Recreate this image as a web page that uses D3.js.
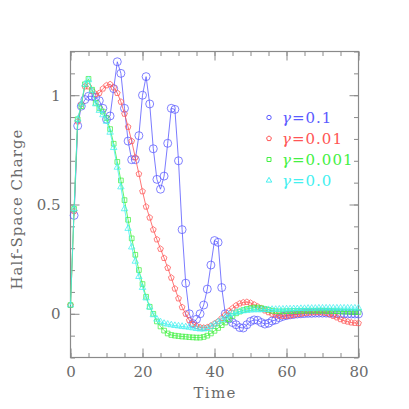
<!DOCTYPE html>
<html>
<head>
<meta charset="utf-8">
<script src="https://cdn.jsdelivr.net/npm/d3@7"></script>
<style>
  html, body { margin: 0; padding: 0; background: #fff; }
  svg { display: block; }
</style>
</head>
<body>
<script>
// ---------------- data ----------------
const time = d3.range(0, 81); // sampling grid, t = 0..80

const gamma01 = [
  null, 0.45, 0.86, 0.95, 0.98, 0.995, 0.995, 0.99, 0.975, 0.94,
  0.89, 0.905, 1.03, 1.153, 1.10, 0.94, 0.79, 0.705, 0.705, 0.815,
  1.0, 1.085, 0.96, 0.755, 0.615, 0.57, 0.63, 0.78, 0.94, 0.935,
  0.70, 0.385, 0.14, 0.0, -0.045, -0.025, 0.0, 0.04, 0.113, 0.223,
  0.335, 0.327, 0.12, 0.0, -0.024, -0.04, -0.05, -0.063, -0.065, -0.05,
  -0.035, -0.028, -0.03, -0.04, -0.047, -0.043, -0.033, -0.028, -0.018, -0.012,
  -0.008, -0.005, -0.003, -0.001, 0.0, 0.001, 0.002, 0.002, 0.003, 0.003,
  0.003, 0.003, 0.002, 0.002, 0.001, 0.0, 0.0, -0.001, -0.001, -0.001,
  -0.001
];
const gamma001 = [
  0.04, 0.47, 0.88, 0.96, 1.04, 1.04, 1.02, 1.005, 1.01, 1.03,
  1.045, 1.05, 1.035, 1.01, 0.97, 0.915, 0.855, 0.79, 0.715, 0.64,
  0.56, 0.49, 0.44, 0.385, 0.34, 0.297, 0.255, 0.21, 0.165, 0.115,
  0.07, 0.03, 0.0, -0.03, -0.047, -0.056, -0.062, -0.064, -0.062, -0.055,
  -0.045, -0.035, -0.02, -0.005, 0.012, 0.025, 0.038, 0.047, 0.052, 0.054,
  0.05, 0.042, 0.033, 0.025, 0.015, 0.007, 0.0, -0.005, -0.009, -0.01,
  -0.01, -0.008, -0.005, -0.002, 0.0, 0.003, 0.005, 0.006, 0.007, 0.007,
  0.006, 0.004, -0.002, -0.01, -0.017, -0.025, -0.032, -0.036, -0.04, -0.042,
  -0.043
];
const gamma0001 = [
  0.04, 0.48, 0.89, 0.95, 1.05, 1.075, 1.025, 0.965, 0.94, 0.925,
  0.895, 0.845, 0.778, 0.695, 0.61, 0.52, 0.43, 0.345, 0.27, 0.2,
  0.136, 0.078, 0.032, 0.0, -0.035, -0.058, -0.077, -0.09, -0.097, -0.1,
  -0.102, -0.104, -0.105, -0.107, -0.108, -0.109, -0.109, -0.106, -0.1, -0.09,
  -0.078, -0.065, -0.052, -0.04, -0.025, -0.01, 0.002, 0.01, 0.017, 0.022,
  0.025, 0.028, 0.028, 0.026, 0.022, 0.018, 0.014, 0.012, 0.011, 0.011,
  0.012, 0.012, 0.013, 0.013, 0.014, 0.014, 0.014, 0.014, 0.014, 0.014,
  0.014, 0.013, 0.013, 0.012, 0.012, 0.011, 0.01, 0.01, 0.009, 0.008,
  0.008
];
const gamma0 = [
  0.04, 0.48, 0.89, 0.96, 1.05, 1.07, 1.02, 0.96, 0.93, 0.91,
  0.88, 0.83, 0.76, 0.67, 0.58, 0.48, 0.39, 0.305, 0.24, 0.17,
  0.12, 0.072, 0.03, -0.005, -0.025, -0.037, -0.044, -0.048, -0.051, -0.054,
  -0.056, -0.058, -0.06, -0.062, -0.065, -0.068, -0.07, -0.07, -0.068, -0.058,
  -0.048, -0.037, -0.027, -0.015, -0.005, 0.002, 0.006, 0.01, 0.013, 0.015,
  0.017, 0.018, 0.018, 0.018, 0.019, 0.019, 0.02, 0.02, 0.021, 0.021,
  0.022, 0.022, 0.023, 0.023, 0.024, 0.024, 0.025, 0.025, 0.025, 0.026,
  0.026, 0.026, 0.026, 0.026, 0.026, 0.026, 0.026, 0.026, 0.026, 0.026,
  0.026
];

const seriesLabels = ["0.1", "0.01", "0.001", "0.0"];
const seriesValues = [gamma01, gamma001, gamma0001, gamma0];
const seriesColors = ["#5b5bff", "#ff5555", "#44f044", "#44f0f0"];
const seriesMarkers = ["circleBig", "pentagon", "square", "triangle"];

const xMajorTicks = [0, 20, 40, 60, 80];
const xMinorTicks = d3.range(0, 81, 5);
const yMajorTicks = [0, 0.5, 1];
const yMajorLabels = ["0", "0.5", "1"];
const yMinorTicks = [-0.2, -0.1, 0, 0.1, 0.2, 0.3, 0.4, 0.5, 0.6, 0.7, 0.8, 0.9, 1.0, 1.1, 1.2];

const xTitle = "Time";
const yTitle = "Half-Space Charge";

// ---------------- layout ----------------
const W = 409, H = 409;
const mLeft = 70.5, mRight = 358.5, mTop = 51.5, mBottom = 357.5;
const axisColor = "#8a8a8a";
const textColor = "#6a6a6a";
const fontFam = "'DejaVu Serif', 'Liberation Serif', serif";

const svg = d3.select("body").append("svg").attr("width", W).attr("height", H);

const x = d3.scaleLinear().domain([0, 80]).range([mLeft, mRight]);
const y = d3.scaleLinear().domain([-0.2, 1.2]).range([mBottom, mTop]);

// custom symbol types
const pentagon = {
  draw(ctx, size) {
    const r = Math.sqrt(size / 2.4);
    for (let i = 0; i < 5; i++) {
      const a = -Math.PI / 2 + i * 2 * Math.PI / 5;
      const px = r * Math.cos(a), py = r * Math.sin(a);
      if (i === 0) ctx.moveTo(px, py); else ctx.lineTo(px, py);
    }
    ctx.closePath();
  }
};
function symbolPath(kind, scale) {
  const s = scale || 1;
  if (kind === "circleBig") return d3.symbol(d3.symbolCircle, 50 * s * s)();
  if (kind === "pentagon") return d3.symbol(pentagon, 22 * s * s)();
  if (kind === "square") return d3.symbol(d3.symbolSquare, 22 * s * s)();
  return d3.symbol(d3.symbolTriangle, 18 * s * s)();
}

// ---------------- axes ----------------
function drawAxis(axisGen, transform) {
  const g = svg.append("g").attr("transform", transform).call(axisGen);
  g.select(".domain").remove();
  g.selectAll(".tick line").attr("stroke", axisColor).attr("stroke-width", 1);
  g.selectAll("text").attr("fill", textColor).attr("font-family", fontFam).attr("font-size", 15);
  return g;
}
// bottom
drawAxis(d3.axisBottom(x).tickValues(xMinorTicks).tickSize(-4.5).tickFormat(""), `translate(0,${mBottom})`);
drawAxis(d3.axisBottom(x).tickValues(xMajorTicks).tickSize(-9).tickPadding(9).tickFormat(d3.format("d")), `translate(0,${mBottom})`);
// top
drawAxis(d3.axisTop(x).tickValues(xMinorTicks).tickSize(-4.5).tickFormat(""), `translate(0,${mTop})`);
drawAxis(d3.axisTop(x).tickValues(xMajorTicks).tickSize(-9).tickFormat(""), `translate(0,${mTop})`);
// left
drawAxis(d3.axisLeft(y).tickValues(yMinorTicks).tickSize(-4.5).tickFormat(""), `translate(${mLeft},0)`);
drawAxis(d3.axisLeft(y).tickValues(yMajorTicks).tickSize(-9).tickPadding(10)
  .tickFormat((d, i) => yMajorLabels[i]), `translate(${mLeft},0)`);
// right
drawAxis(d3.axisRight(y).tickValues(yMinorTicks).tickSize(-4.5).tickFormat(""), `translate(${mRight},0)`);
drawAxis(d3.axisRight(y).tickValues(yMajorTicks).tickSize(-9).tickFormat(""), `translate(${mRight},0)`);

// frame
svg.append("rect")
  .attr("x", mLeft).attr("y", mTop)
  .attr("width", mRight - mLeft).attr("height", mBottom - mTop)
  .attr("fill", "none").attr("stroke", axisColor).attr("stroke-width", 1.2);

// titles
svg.append("text")
  .attr("x", (mLeft + mRight) / 2).attr("y", 398)
  .attr("text-anchor", "middle")
  .attr("font-family", fontFam).attr("font-size", 15)
  .attr("fill", textColor)
  .attr("textLength", 42).attr("lengthAdjust", "spacing")
  .text(xTitle);

svg.append("text")
  .attr("transform", `translate(22,${(mTop + mBottom) / 2 + 5}) rotate(-90)`)
  .attr("text-anchor", "middle")
  .attr("font-family", fontFam).attr("font-size", 15)
  .attr("fill", textColor)
  .attr("textLength", 160).attr("lengthAdjust", "spacing")
  .text(yTitle);

// ---------------- series ----------------
const line = d3.line()
  .defined(d => d !== null)
  .x((d, i) => x(time[i])).y(d => y(d));

seriesValues.forEach((vals, k) => {
  const g = svg.append("g");
  g.append("path")
    .attr("d", line(vals))
    .attr("fill", "none")
    .attr("stroke", seriesColors[k])
    .attr("stroke-width", 0.9)
    .attr("stroke-opacity", 0.9);
  const pts = vals.map((v, i) => ({ t: time[i], v })).filter(p => p.v !== null);
  g.selectAll("path.m")
    .data(pts)
    .join("path")
    .attr("class", "m")
    .attr("transform", p => `translate(${x(p.t)},${y(p.v)})`)
    .attr("d", symbolPath(seriesMarkers[k]))
    .attr("fill", "none")
    .attr("stroke", seriesColors[k])
    .attr("stroke-width", 0.9)
    .attr("stroke-opacity", 0.85);
});

// ---------------- legend ----------------
const legendY0 = 117.5, legendStep = 21;
seriesLabels.forEach((lab, k) => {
  const yy = legendY0 + k * legendStep;
  svg.append("path")
    .attr("transform", `translate(269,${yy})`)
    .attr("d", symbolPath(seriesMarkers[k], seriesMarkers[k] === "circleBig" ? 0.55 : 0.85))
    .attr("fill", "none")
    .attr("stroke", seriesColors[k])
    .attr("stroke-width", 1);
  const t = svg.append("text")
    .attr("x", 282).attr("y", yy + 5.5)
    .attr("font-family", fontFam).attr("font-size", 15)
    .attr("letter-spacing", 1)
    .attr("fill", seriesColors[k]);
  t.append("tspan").attr("font-style", "italic").text("γ");
  t.append("tspan").text("=" + lab);
});
</script>
</body>
</html>
